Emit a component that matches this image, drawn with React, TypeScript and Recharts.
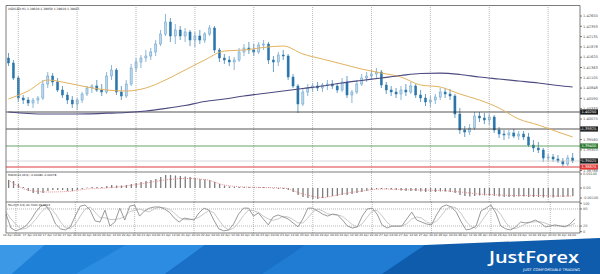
import React from 'react';
import { ComposedChart, Bar, Line, XAxis, YAxis, ReferenceLine } from 'recharts';

// ---------- DATA ----------
const candleOpen = [1.4160,1.41475,1.4110,1.4060,1.4055,1.40475,1.4055,1.4060,1.4095,1.4115,1.4100,1.4080,1.40675,1.4055,1.4045,1.4055,1.4070,1.4085,1.4090,1.4080,1.4075,1.4115,1.4130,1.4075,1.4065,1.4095,1.4135,1.4150,1.4160,1.4165,1.4175,1.4195,1.4220,1.4250,1.4215,1.4230,1.4215,1.4225,1.4205,1.4215,1.4205,1.4220,1.4235,1.4180,1.4160,1.4155,1.4150,1.4155,1.4175,1.4185,1.4180,1.4175,1.41925,1.4195,1.4155,1.4150,1.41675,1.4165,1.41125,1.4090,1.4045,1.4075,1.4085,1.4090,1.4085,1.40925,1.4095,1.4090,1.4080,1.4100,1.40675,1.4075,1.4095,1.4110,1.4115,1.4120,1.4125,1.40925,1.4080,1.4075,1.4070,1.4080,1.4075,1.4090,1.40675,1.4060,1.4050,1.4055,1.40625,1.4075,1.4070,1.4065,1.4020,1.3980,1.3975,1.3985,1.4015,1.4010,1.4005,1.40125,1.3980,1.3970,1.39675,1.39725,1.3965,1.3970,1.39625,1.39425,1.3935,1.3930,1.3910,1.39125,1.39075,1.39025,1.3895,1.3910];
const candleHigh = [1.41725,1.4155,1.4115,1.40675,1.40625,1.4060,1.4065,1.4105,1.4125,1.41225,1.4110,1.4090,1.4075,1.4065,1.4060,1.4075,1.4090,1.4095,1.4105,1.4095,1.4125,1.41425,1.4135,1.4090,1.4105,1.4145,1.4160,1.41675,1.4180,1.4185,1.4205,1.4230,1.4270,1.4260,1.4245,1.4240,1.4235,1.4230,1.4225,1.4230,1.4225,1.42425,1.4240,1.4185,1.4170,1.4165,1.41625,1.4185,1.4195,1.4200,1.4195,1.4200,1.4205,1.4200,1.4165,1.4175,1.4180,1.4170,1.4120,1.4095,1.4085,1.4095,1.40975,1.4100,1.40975,1.4105,1.4105,1.40975,1.4110,1.4115,1.4080,1.4105,1.4120,1.4125,1.4130,1.4135,1.4130,1.4100,1.4090,1.4085,1.4090,1.4095,1.4100,1.4095,1.4080,1.4070,1.4065,1.4070,1.4085,1.4085,1.40825,1.4070,1.4035,1.3990,1.3995,1.4025,1.4025,1.40225,1.4020,1.40175,1.39875,1.3980,1.3980,1.39825,1.39775,1.39775,1.39725,1.3955,1.3950,1.3935,1.3920,1.3920,1.39175,1.3910,1.39175,1.39225];
const candleLow = [1.4140,1.4105,1.4050,1.4045,1.4040,1.4035,1.4045,1.4055,1.4085,1.4090,1.4075,1.4060,1.4045,1.4035,1.4030,1.40475,1.4065,1.40725,1.4075,1.4065,1.4070,1.4105,1.40675,1.4055,1.4060,1.4090,1.4125,1.4135,1.4150,1.4155,1.4165,1.4190,1.4215,1.4200,1.4195,1.4205,1.4200,1.4190,1.41875,1.4195,1.41975,1.4215,1.41725,1.4150,1.4145,1.4140,1.4130,1.4150,1.4165,1.4170,1.4165,1.4170,1.4180,1.4145,1.4125,1.4140,1.4155,1.4105,1.4085,1.40225,1.4040,1.4065,1.4075,1.40775,1.4075,1.4080,1.40825,1.40725,1.4075,1.4060,1.40475,1.4070,1.4090,1.4100,1.4105,1.4110,1.4085,1.4070,1.4065,1.4060,1.4055,1.4065,1.4070,1.4060,1.4050,1.4040,1.40375,1.4045,1.4055,1.4060,1.4055,1.4010,1.3970,1.39625,1.39675,1.3980,1.4000,1.3995,1.39925,1.39725,1.3960,1.3955,1.39575,1.3960,1.3955,1.3955,1.39375,1.3925,1.39225,1.3900,1.3900,1.3900,1.38975,1.38875,1.3890,1.38975];
const candleClose = [1.41475,1.4110,1.4060,1.4055,1.40475,1.4055,1.4060,1.4095,1.4115,1.4100,1.4080,1.40675,1.4055,1.4045,1.4055,1.4070,1.4085,1.4090,1.4080,1.4075,1.4115,1.4130,1.4075,1.4065,1.4095,1.4135,1.4150,1.4160,1.4165,1.4175,1.4195,1.4220,1.4250,1.4215,1.4230,1.4215,1.4225,1.4205,1.4215,1.4205,1.4220,1.4235,1.4180,1.4160,1.4155,1.4150,1.4155,1.4175,1.4185,1.4180,1.4175,1.41925,1.4195,1.4155,1.4150,1.41675,1.4165,1.41125,1.4090,1.4045,1.4075,1.4085,1.4090,1.4085,1.40925,1.4095,1.4090,1.4080,1.4100,1.40675,1.4075,1.4095,1.4110,1.4115,1.4120,1.4125,1.40925,1.4080,1.4075,1.4070,1.4080,1.4075,1.4090,1.40675,1.4060,1.4050,1.4055,1.40625,1.4075,1.4070,1.4065,1.4020,1.3980,1.3975,1.3985,1.4015,1.4010,1.4005,1.40125,1.3980,1.3970,1.39675,1.39725,1.3965,1.3970,1.39625,1.39425,1.3935,1.3930,1.3910,1.39125,1.39075,1.39025,1.3895,1.3910,1.39025];

// moving averages, sampled at these candle positions
const maSampleIdx = [0,4,8,12,16,20,24,28,32,36,40,44,48,52,56,60,64,68,72,76,80,84,88,92,96,100,104,108,112,115];
const maFast = [1.40575,1.40775,1.4105,1.40975,1.40875,1.408,1.40775,1.4085,1.4105,1.413,1.4155,1.41775,1.418,1.41863,1.419,1.417,1.41575,1.4145,1.41325,1.41225,1.41125,1.40925,1.40875,1.407,1.4055,1.4035,1.40075,1.39925,1.3975,1.39625];
const maSlow = [1.4025,1.40213,1.402,1.402,1.40205,1.4022,1.40238,1.40275,1.40338,1.40413,1.40513,1.40575,1.4065,1.40713,1.40775,1.40838,1.409,1.40975,1.41038,1.411,1.41163,1.41213,1.4122,1.41188,1.41125,1.41075,1.41025,1.40975,1.40913,1.40875];

const macdHist = [0.0008,0.0007,0.0004,0.0001,-0.0003,-0.0005,-0.0006,-0.0005,-0.0003,-0.0002,-0.0002,-0.0002,-0.0003,-0.0003,-0.0002,-0.0001,0.00005,0.0001,0.0001,0.0001,0.0002,0.0003,0.00025,0.00025,0.0003,0.0004,0.0005,0.0006,0.0007,0.0008,0.0009,0.0011,0.0013,0.0013,0.00125,0.0012,0.00115,0.0011,0.0010,0.0009,0.00085,0.0008,0.0006,0.0004,0.00025,0.00015,0.0001,0.0001,0.0001,0.0001,0.0001,0.0001,0.0001,0.00005,-0.00005,-0.0001,-0.0001,-0.0002,-0.0004,-0.0007,-0.0009,-0.0010,-0.0011,-0.0011,-0.0010,-0.0009,-0.0008,-0.0008,-0.0007,-0.0007,-0.0006,-0.0005,-0.0004,-0.0003,-0.0002,-0.0001,-0.0001,-0.0001,-0.00015,-0.0002,-0.00025,-0.0003,-0.0003,-0.0003,-0.00035,-0.0004,-0.0004,-0.0004,-0.00035,-0.00035,-0.0004,-0.0005,-0.0007,-0.0008,-0.00085,-0.0008,-0.00075,-0.00075,-0.00075,-0.0008,-0.00085,-0.0009,-0.0009,-0.0009,-0.00085,-0.00085,-0.0009,-0.0009,-0.0009,-0.00095,-0.00095,-0.00095,-0.0009,-0.0009,-0.00085,-0.0008];
const macdSignal = [0.0008,-0.0002,-0.0004,-0.00035,-0.0001,0,0.0002,0.0005,0.0008,0.00095,0.00085,0.0003,0.0001,0.00005,0,-0.0006,-0.00095,-0.0006,-0.0003,-0.0001,-0.00015,-0.0002,-0.00025,-0.0004,-0.0006,-0.0007,-0.00075,-0.00075,-0.0008,-0.0008];

const stochMain = [62,13,3,10,20,41,69,90,94,69,27,10,6,17,55,90,94,76,38,34,76,20,34,83,41,90,94,55,73,83,87,87,80,69,48,34,48,45,41,66,83,76,41,10,3,6,27,62,83,83,55,66,45,24,52,59,52,45,31,17,45,83,83,73,62,55,62,59,41,20,13,17,55,80,83,62,24,13,20,20,20,45,69,41,34,27,24,59,87,94,87,69,34,6,10,20,73,83,94,66,20,10,6,17,34,31,34,41,31,17,20,24,20,17,27,45];
const stochSignal = [70,45,26,9,11,24,43,67,84,84,63,35,14,11,26,54,80,87,69,49,49,43,43,46,53,71,75,80,74,70,81,86,85,79,66,50,43,42,45,51,63,75,67,42,18,6,12,32,57,76,74,68,55,45,40,45,54,52,43,31,31,48,70,80,73,63,60,59,54,40,25,17,28,51,73,75,56,33,19,18,20,28,45,52,48,34,28,37,57,80,89,83,63,36,17,12,34,59,83,81,60,32,12,11,19,27,33,35,35,30,23,20,21,20,21,30];

const timeLabels = ['16 Apr 2020','17 Apr 04:00','17 Apr 12:00','17 Apr 20:00','20 Apr 04:00','20 Apr 12:00','20 Apr 20:00','21 Apr 04:00','21 Apr 12:00','21 Apr 20:00','22 Apr 04:00','22 Apr 12:00','22 Apr 20:00','23 Apr 04:00','23 Apr 12:00','23 Apr 20:00','24 Apr 04:00','24 Apr 12:00','24 Apr 20:00','27 Apr 04:00','27 Apr 12:00','27 Apr 20:00','28 Apr 04:00','28 Apr 12:00','28 Apr 20:00','29 Apr 04:00','29 Apr 12:00','29 Apr 20:00','30 Apr 04:00'];
const priceTicks = [1.4265,1.42393,1.42135,1.41878,1.4162,1.41363,1.41105,1.40848,1.4059,1.40333,1.40075,1.39818,1.3956,1.39303,1.39045,1.38788];
const gridIdx = [2,14,26,38,50,62,74,86,98,110];
const priceLevels = [
  { v: 1.4025, line: '#2a2a2a', tag: '#1c1c1c' },
  { v: 1.39825, line: '#2a2a2a', tag: '#1c1c1c' },
  { v: 1.394, line: '#3f8d3f', tag: '#2f7d32' },
  { v: 1.39025, line: '#cfcfcf', tag: '#1c1c1c' },
  { v: 1.38875, line: '#e77c7c', tag: '#e53935' },
];

const TOTAL_BANDS = 117;

const rows = Array.from({ length: TOTAL_BANDS }, (_, i) => {
  const has = i < candleOpen.length;
  const s = maSampleIdx.indexOf(i);
  return {
    i,
    o: has ? candleOpen[i] : null,
    h: has ? candleHigh[i] : null,
    l: has ? candleLow[i] : null,
    c: has ? candleClose[i] : null,
    range: has ? [candleLow[i], candleHigh[i]] : null,
    maF: s >= 0 ? maFast[s] : null,
    maS: s >= 0 ? maSlow[s] : null,
    macd: has ? macdHist[i] : null,
    sig: s >= 0 ? macdSignal[s] : null,
    st: has ? stochMain[i] : null,
    ss: has ? stochSignal[i] : null,
  };
});

// ---------- COMPONENTS ----------
const Candle = (props: any) => {
  const { x, y, width, height, payload } = props;
  if (!payload || payload.o == null) return <g />;
  const { o, h, l, c } = payload;
  const top = Math.min(y, y + height);
  const hh = Math.abs(height);
  const py = (p: number) => (h === l ? top : top + ((h - p) / (h - l)) * hh);
  const cx = x + width / 2;
  const up = c >= o;
  const col = up ? '#5b98c6' : '#2a75ab';
  const yo = py(o), yc = py(c);
  const bt = Math.min(yo, yc);
  const bh = Math.max(0.7, Math.abs(yc - yo));
  return (
    <g>
      <line x1={cx} x2={cx} y1={top} y2={top + hh} stroke={col} strokeWidth={0.7} />
      <rect x={cx - 1.05} y={bt} width={2.1} height={bh} fill={up ? '#b9d6eb' : '#2a75ab'} stroke={col} strokeWidth={0.45} />
    </g>
  );
};

const PriceTag = (props: any, fill: string, v: number) => {
  const vb = props.viewBox || {};
  const x = (vb.x || 0) + (vb.width || 0);
  const y = vb.y || 0;
  return (
    <g>
      <rect x={x} y={y - 2.6} width={18} height={5.2} fill={fill} />
      <text x={x + 1.5} y={y + 1.3} fontSize={3.6} fill="#ffffff">{v.toFixed(5)}</text>
    </g>
  );
};

const TimeTick = (props: any) => {
  const { x, y, payload } = props;
  const i = payload ? payload.value : -1;
  if (i % 4 !== 0 || i / 4 >= timeLabels.length) return <g />;
  return (
    <text x={x - 3} y={y + 3.2} fontSize={2.9} fill="#333" textAnchor="start">
      {timeLabels[i / 4]}
    </text>
  );
};

const margin = { top: 0, right: 0, bottom: 0, left: 6 };
const gridLines = (keyp: string) =>
  gridIdx.map((k) => (
    <ReferenceLine key={keyp + k} x={k} stroke="#9a9a9a" strokeWidth={0.7} strokeDasharray="1 1" ifOverflow="visible" />
  ));

export default function App() {
  return (
    <div style={{ position: 'absolute', left: 0, top: 0, width: 600, height: 274, background: '#fff', fontFamily: '"DejaVu Sans", sans-serif', overflow: 'hidden' }}>
      {/* main price panel */}
      <div style={{ position: 'absolute', left: 0, top: 6 }}>
        <ComposedChart width={600} height={166} data={rows} margin={margin}>
          <XAxis dataKey="i" type="category" hide />
          <YAxis orientation="right" width={20} domain={[1.3875, 1.429]} ticks={priceTicks} interval={0} allowDataOverflow
            axisLine={false} tickSize={2} tickMargin={1} tickLine={{ stroke: '#777' }}
            tick={{ fontSize: 3.6, fill: '#555' }} tickFormatter={(v: number) => v.toFixed(5)} />
          {gridLines('m')}
          {priceLevels.map((lv) => (
            <ReferenceLine key={'lv' + lv.v} y={lv.v} stroke={lv.line} strokeWidth={lv.tag === '#e53935' ? 1.3 : 0.8}
              label={(p: any) => PriceTag(p, lv.tag, lv.v)} />
          ))}
          <Bar dataKey="range" shape={<Candle />} isAnimationActive={false} />
          <Line dataKey="maF" type="monotone" stroke="#e2b25e" strokeWidth={1} dot={false} connectNulls isAnimationActive={false} />
          <Line dataKey="maS" type="monotone" stroke="#4c4a80" strokeWidth={1.2} dot={false} connectNulls isAnimationActive={false} />
        </ComposedChart>
      </div>

      {/* MACD panel */}
      <div style={{ position: 'absolute', left: 0, top: 172 }}>
        <ComposedChart width={600} height={30} data={rows} margin={margin}>
          <XAxis dataKey="i" type="category" hide />
          <YAxis orientation="right" width={20} domain={[-0.0014, 0.0016]} ticks={[0.0014, 0, -0.001]} interval={0} allowDataOverflow
            axisLine={false} tickSize={2} tickMargin={1} tickLine={{ stroke: '#777' }}
            tick={{ fontSize: 3.4, fill: '#555' }} tickFormatter={(v: number) => (v === 0 ? '0.00' : v.toFixed(5))} />
          {gridLines('d')}
          <Bar dataKey="macd" fill="#7c7c7c" barSize={1.3} isAnimationActive={false} />
          <Line dataKey="sig" type="monotone" stroke="#e07878" strokeWidth={0.8} strokeDasharray="1 1" dot={false} connectNulls isAnimationActive={false} />
        </ComposedChart>
      </div>

      {/* Stochastic panel */}
      <div style={{ position: 'absolute', left: 0, top: 202 }}>
        <ComposedChart width={600} height={40} data={rows} margin={margin}>
          <XAxis dataKey="i" type="category" interval={0} height={9} axisLine={false} tickLine={false} tickSize={0} tickMargin={0} tick={<TimeTick />} />
          <YAxis orientation="right" width={20} domain={[-4.6, 104.6]} ticks={[100, 80, 20, 0]} interval={0} allowDataOverflow
            axisLine={false} tickSize={2} tickMargin={1} tickLine={{ stroke: '#777' }}
            tick={{ fontSize: 3.4, fill: '#555' }} />
          {gridLines('s')}
          <ReferenceLine y={80} stroke="#999" strokeWidth={0.7} strokeDasharray="1 1" />
          <ReferenceLine y={20} stroke="#999" strokeWidth={0.7} strokeDasharray="1 1" />
          <Line dataKey="ss" type="linear" stroke="#c2c2c2" strokeWidth={0.9} dot={false} isAnimationActive={false} />
          <Line dataKey="st" type="linear" stroke="#8e8e8e" strokeWidth={0.9} dot={false} isAnimationActive={false} />
        </ComposedChart>
      </div>

      {/* frame, panel captions and banner */}
      <svg width={600} height={274} style={{ position: 'absolute', left: 0, top: 0, pointerEvents: 'none' }}>
        <g stroke="#5a5a5a" strokeWidth={0.8} fill="none">
          <line x1={6} y1={5.5} x2={580} y2={5.5} />
          <line x1={6} y1={5.5} x2={6} y2={233} />
          <line x1={580} y1={5.5} x2={580} y2={233} />
          <line x1={6} y1={172} x2={580} y2={172} />
          <line x1={6} y1={202} x2={580} y2={202} />
          <line x1={6} y1={233} x2={580} y2={233} />
        </g>
        <text x={8} y={9.6} fontSize={3} fill="#222">USDCAD,H1  1.39030 1.39050 1.39010 1.39025</text>
        <text x={8} y={176.4} fontSize={2.8} fill="#222">MACD(12,26,9) -0.00080 -0.00078</text>
        <text x={8} y={206} fontSize={2.8} fill="#222">Stoch(5,3,3) 44.7040 29.9213</text>

        <polygon points="0,245 600,245 600,274 0,274" fill="#1670c8" />
        <polygon points="0,245 45,245 12,274 0,274" fill="#3a98e6" />
        <polygon points="45,245 125,245 75,274 12,274" fill="#1f80d8" />
        <polygon points="125,245 205,245 165,274 75,274" fill="#2b8ce2" />
        <polygon points="205,245 305,245 262,274 165,274" fill="#1a70c6" />
        <polygon points="305,245 425,245 382,274 262,274" fill="#207cd2" />
        <polygon points="425,245 600,238 600,274 382,274" fill="#0f5cad" />
        <text x={489} y={263} fill="#ffffff" fontSize={17} fontFamily="Open Sans" fontWeight={600} textLength={90} lengthAdjust="spacingAndGlyphs">JustForex</text>
        <text x={523} y={271} fill="#ffffff" fontSize={3.6} textLength={57} lengthAdjust="spacingAndGlyphs">JUST COMFORTABLE TRADING</text>
      </svg>
    </div>
  );
}
